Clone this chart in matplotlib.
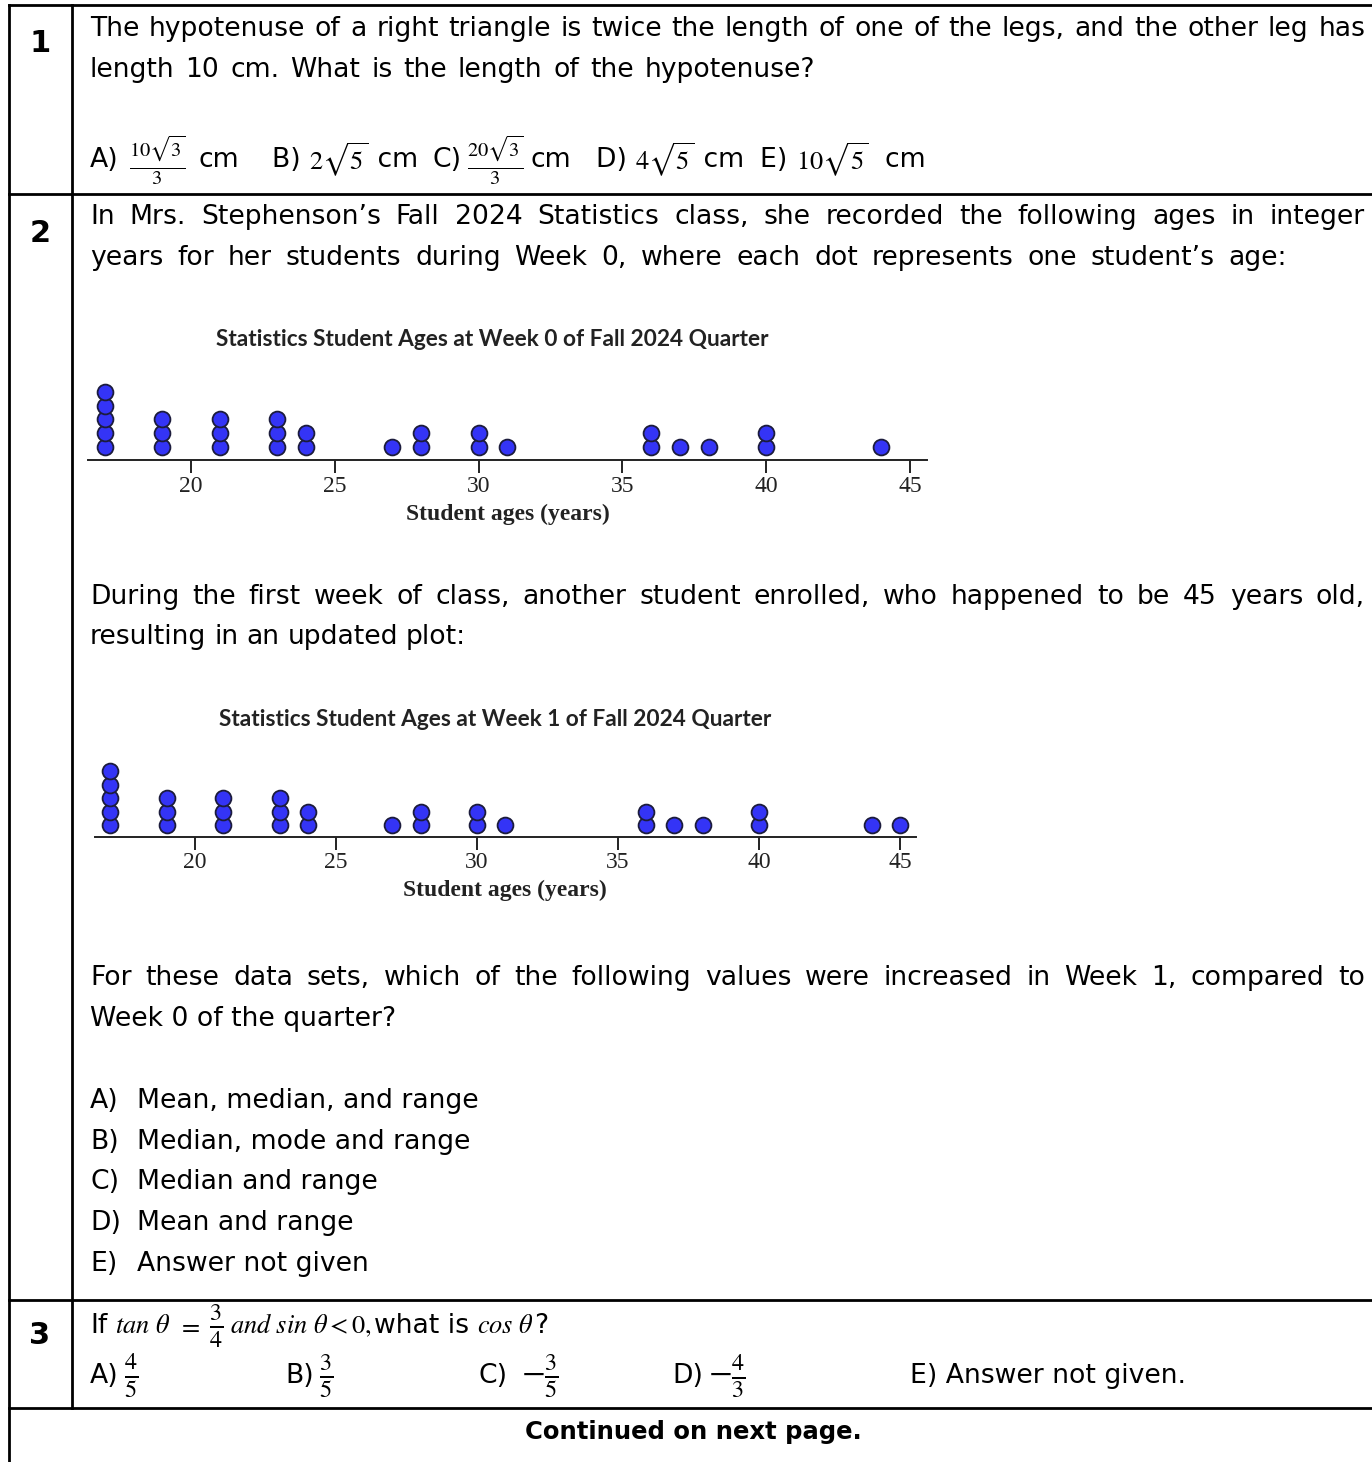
import matplotlib.pyplot as plt
import numpy as np

plt.rcParams['mathtext.fontset'] = 'stix'

# ages shown in the two dot plots (one dot per student)
week0_ages = [17, 19, 21, 23, 24, 27, 28, 30, 31, 36, 37, 38, 40, 44]
week0_counts = [5, 3, 3, 3, 2, 1, 2, 2, 1, 2, 1, 1, 2, 1]
week1_ages = week0_ages + [45]
week1_counts = week0_counts + [1]
age_ticks = [20, 25, 30, 35, 40, 45]

W, H = 1372, 1462
BODY = 'DejaVu Sans'
FS = 19.2

fig = plt.figure(figsize=(W / 100, H / 100), dpi=100)
page = fig.add_axes([0, 0, 1, 1])
page.set_xlim(0, W)
page.set_ylim(H, 0)
page.axis('off')
renderer = fig.canvas.get_renderer()

# table grid
lw = 2.0
for y in [5, 194, 1300, 1408]:
    page.plot([9, W], [y, y], color='black', lw=lw)
page.plot([9, 9], [5, H], color='black', lw=lw)
page.plot([72, 72], [5, 1408], color='black', lw=lw)


def txt(x, y, s, size=FS, **kw):
    kw.setdefault('family', BODY)
    return page.text(x, y, s, fontsize=size, va='center', **kw)


def chain(x, y, pieces, pad=0):
    # pieces: list of (string, fontsize, gap after); laid out left to right
    for s, size, gap in pieces:
        t = txt(x, y, s, size=size)
        x += t.get_window_extent(renderer).width + gap
    return x


def justify(line, y, x0=90, x1=1365):
    words = line.split()
    objs = [txt(0, y, w) for w in words]
    widths = [o.get_window_extent(renderer).width for o in objs]
    gap = (x1 - x0 - sum(widths)) / (len(words) - 1)
    x = x0
    for o, w in zip(objs, widths):
        o.set_x(x)
        x += w + gap


# question numbers
for n, y in [('1', 44), ('2', 234), ('3', 1336)]:
    txt(40, y, n, size=22, ha='center', weight='bold')

# question 1
justify('The hypotenuse of a right triangle is twice the length of one of the legs, and the other leg has', 29)
justify('length 10 cm.  What is the length of the hypotenuse?', 70, x1=815)
txt(90, 160, 'A)')
txt(157, 160, r'$\frac{10\sqrt{3}}{3}$', size=21, ha='center')
txt(198, 160, 'cm')
chain(272, 160, [('B) ', FS, 0), (r'$2\sqrt{5}$', 19, 0), (' cm', FS, 0)])
txt(433, 160, 'C)')
txt(495, 160, r'$\frac{20\sqrt{3}}{3}$', size=21, ha='center')
txt(530, 160, 'cm')
chain(596, 160, [('D) ', FS, 0), (r'$4\sqrt{5}$', 19, 0), (' cm', FS, 0)])
chain(760, 160, [('E) ', FS, 0), (r'$10\sqrt{5}$', 19, 0), ('  cm', FS, 0)])

# question 2
justify('In Mrs. Stephenson\u2019s Fall 2024 Statistics class, she recorded the following ages in integer', 217)
justify('years for her students during Week 0, where each dot represents one student\u2019s age:', 258, x1=1287)
justify('During the first week of class, another student enrolled, who happened to be 45 years old,', 597)
justify('resulting in an updated plot:', 637, x1=466)
justify('For these data sets, which of the following values were increased in Week 1, compared to', 978)
txt(90, 1019, 'Week 0 of the quarter?')
options = ['Mean, median, and range', 'Median, mode and range', 'Median and range',
           'Mean and range', 'Answer not given']
for i, (letter, opt) in enumerate(zip('ABCDE', options)):
    y = 1101 + i * 40.7
    txt(90, y, letter + ')')
    txt(137, y, opt)


def dot_plot(ages, counts, title, left, right, axis_y, x20, x45, top, unit, base_gap,
             title_xy, tick_y, label_xy):
    ax = fig.add_axes([left / W, 1 - axis_y / H, (right - left) / W, (axis_y - top) / H])
    ppy = (x45 - x20) / 25
    ax.set_xlim(20 - (x20 - left) / ppy, 45 + (right - x45) / ppy)
    lo = 1 - base_gap / unit
    ax.set_ylim(lo, lo + (axis_y - top) / unit)
    for a, c in zip(ages, counts):
        ax.plot([a] * c, np.arange(1, c + 1), 'o', ms=11.4, mfc='#3434f6', mec='#1c1c3c',
                mew=1.3, clip_on=False)
    for s in ['left', 'right', 'top']:
        ax.spines[s].set_visible(False)
    ax.spines['bottom'].set_linewidth(1.4)
    ax.spines['bottom'].set_color('#222222')
    ax.set_facecolor('none')
    ax.set_yticks([])
    ax.set_xticks(age_ticks)
    ax.set_xticklabels([])
    ax.tick_params(axis='x', length=9, width=1.4, color='#222222')
    for t in age_ticks:
        xp = x20 + (t - 20) * ppy
        page.text(xp, tick_y, str(t), fontsize=17, family='Liberation Serif',
                  ha='center', va='center', color='#222222')
    page.text(title_xy[0], title_xy[1], title, fontsize=16.3, family='Lato',
              weight='bold', ha='center', va='center', color='#222222')
    page.text(label_xy[0], label_xy[1], 'Student ages (years)', fontsize=17,
              family='Liberation Serif', weight='bold', ha='center', va='center', color='#222222')


dot_plot(week0_ages, week0_counts, 'Statistics Student Ages at Week 0 of Fall 2024 Quarter',
         88, 927, 460, 191, 910, 375, 13.8, 13, (492, 340), 486, (508, 514))
dot_plot(week1_ages, week1_counts, 'Statistics Student Ages at Week 1 of Fall 2024 Quarter',
         95, 916, 837, 195, 900, 755, 13.5, 12, (495, 720), 863, (505, 890))

# question 3
MS = 19
FR = 25
chain(90, 1326, [('If', FS, 8), (r'$tan\ \theta$', MS, 8), (r'$=$', MS, 8),
                 (r'$\frac{3}{4}$', FR, 7), (r'$and\ sin\ \theta < 0,$', MS, 2),
                 ('what is', FS, 8), (r'$cos\ \theta$', MS, 1), ('?', FS, 0)])
for x, label, frac in [(90, 'A)', r'$\frac{4}{5}$'), (285, 'B)', r'$\frac{3}{5}$'),
                       (478, 'C)', r'$-\frac{3}{5}$'), (672, 'D)', r'$-\frac{4}{3}$')]:
    chain(x, 1376, [(label, FS, 14 if label == 'C)' else 5), (frac, FR, 0)])
txt(910, 1376, 'E) Answer not given.')

txt(693, 1432, 'Continued on next page.', size=17.5, weight='bold', ha='center')

fig.savefig('out.png', dpi=100)
